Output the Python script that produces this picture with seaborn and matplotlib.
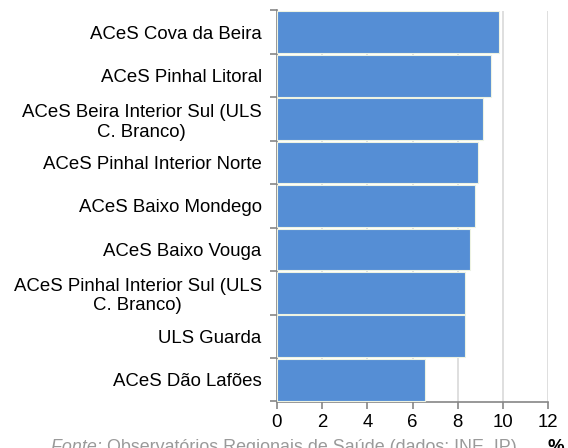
import matplotlib
matplotlib.use("Agg")
import matplotlib.pyplot as plt
from matplotlib.ticker import FixedLocator
import seaborn as sns
import pandas as pd

categories = [
    "ACeS Cova da Beira",
    "ACeS Pinhal Litoral",
    "ACeS Beira Interior Sul (ULS\nC. Branco)",
    "ACeS Pinhal Interior Norte",
    "ACeS Baixo Mondego",
    "ACeS Baixo Vouga",
    "ACeS Pinhal Interior Sul (ULS\nC. Branco)",
    "ULS Guarda",
    "ACeS Dão Lafões",
]
values = [9.83, 9.46, 9.12, 8.90, 8.78, 8.53, 8.31, 8.31, 6.55]
xticks = [0, 2, 4, 6, 8, 10, 12]
source_label = "Fonte:"
source_text = "Observatórios Regionais de Saúde (dados: INE, IP)"
unit = "%"

df = pd.DataFrame({"cat": categories, "val": values})

sns.set_theme(style="white")
plt.rcParams["font.family"] = ["Liberation Sans", "DejaVu Sans"]

fig = plt.figure(figsize=(5.68, 4.48), dpi=100)
ax = fig.add_axes([277 / 568, 1 - 401.5 / 448, 271 / 568, 391 / 448])

sns.barplot(data=df, x="val", y="cat", orient="h", color="#558ED5",
            saturation=1, width=0.96, edgecolor="#EEF3E2", linewidth=0.8,
            ax=ax, zorder=3)

ax.set_xlim(0, 12)
ax.set_ylim(len(categories) - 0.5, -0.5)
ax.set_xticks(xticks)
ax.set_xticklabels([str(t) for t in xticks], fontsize=13.4, color="#000000")
ax.set_xlabel("")
ax.set_ylabel("")
ax.xaxis.grid(True, color="#D9D9D9", linewidth=1.2, zorder=0)
ax.yaxis.grid(False)
ax.set_axisbelow(True)

for lbl in ax.get_yticklabels():
    lbl.set_multialignment("center")
    lbl.set_fontsize(13.4)
    lbl.set_color("#000000")
ax.tick_params(axis="y", which="major", length=0, pad=11)
ax.yaxis.set_minor_locator(FixedLocator([i - 0.5 for i in range(len(categories) + 1)]))
ax.tick_params(axis="y", which="minor", length=5, width=1.2, color="#868686", left=True)
ax.tick_params(axis="x", which="major", length=5, width=1.2, color="#868686", bottom=True, pad=4)

for s in ["top", "right"]:
    ax.spines[s].set_visible(False)
for s in ["left", "bottom"]:
    ax.spines[s].set_color("#868686")
    ax.spines[s].set_linewidth(1.2)

yb = -0.010
t1 = fig.text(51 / 568, yb, source_label + " ", fontsize=12.9, color="#9A9A9A",
              style="italic", ha="left", va="baseline")
fig.canvas.draw()
bb = t1.get_window_extent()
fig.text(bb.x1 / fig.bbox.width, yb, source_text, fontsize=12.9, color="#9A9A9A",
         ha="left", va="baseline")
fig.text(547 / 568, yb, unit, fontsize=13.4, color="#000000",
         fontweight="bold", ha="left", va="baseline")

fig.savefig("out.png", dpi=100)
